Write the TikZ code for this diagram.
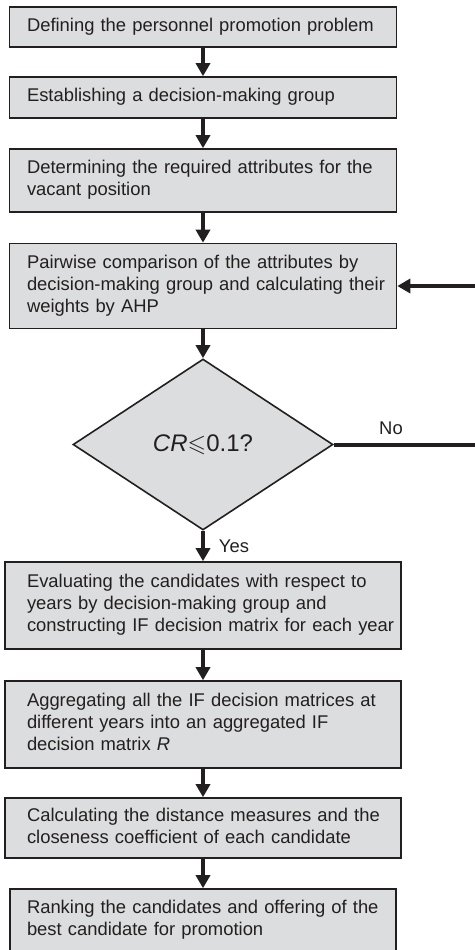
\documentclass[tikz,border=0pt]{standalone}
\usepackage{amsmath, amsfonts, amssymb}
\usepackage{fontspec}
\setmainfont{Liberation Sans}
\usetikzlibrary{positioning, shapes.geometric, arrows.meta}
\definecolor{ink}{HTML}{231F20}
\definecolor{boxgray}{HTML}{DCDDDE}
\newcommand{\steptext}[1]{\begin{tabular}{@{}l@{}}#1\end{tabular}}

\begin{document}
\begin{tikzpicture}[x=1pt, y=-1pt,
        stepbox/.style={draw=ink, fill=boxgray, line width=0.8pt, text=ink,
            text width=176pt, align=left, inner xsep=8.75pt, inner ysep=0pt,
            font=\fontsize{9.2}{11}\selectfont},
        widebox/.style={stepbox, inner xsep=11pt},
        check/.style={diamond, draw=ink, fill=boxgray, line width=0.8pt, text=ink,
            aspect=1.52, minimum width=130pt, minimum height=85.5pt, inner sep=0pt,
            font=\fontsize{12}{14}\selectfont},
        flow/.style={draw=ink, line width=2pt, -{Triangle[length=6.5pt,width=7pt]}},
        answer/.style={text=ink, inner sep=0pt, font=\fontsize{9.2}{11}\selectfont}]
        \useasboundingbox (0,0) rectangle (237.5,475);
        \node[stepbox, minimum height=20pt]   (b1) at (101.5, 13.5)  {\steptext{Defining the personnel promotion problem}};
        \node[stepbox, minimum height=20.5pt] (b2) at (101.5, 48.75) {\steptext{Establishing a decision-making group}};
        \node[stepbox, minimum height=31.5pt] (b3) at (101.5, 90.25) {\steptext{Determining the required attributes for the\\ vacant position}};
        \node[stepbox, minimum height=42.5pt] (b4) at (101.5, 143)   {\steptext{Pairwise comparison of the attributes by\\ decision-making group and calculating their\\ weights by AHP}};
        \node[check] (cr) at (101.5, 222.25) {\textit{CR}$\leqslant$0.1?};
        \node[widebox, minimum height=43.5pt] (b5) at (101.5, 302.75) {\steptext{Evaluating the candidates with respect to\\ years by decision-making group and\\ constructing IF decision matrix for each year}};
        \node[widebox, minimum height=43.5pt] (b6) at (101.5, 362.25) {\steptext{Aggregating all the IF decision matrices at\\ different years into an aggregated IF\\ decision matrix \textit{R}}};
        \node[widebox, minimum height=30pt]   (b7) at (101.5, 414)    {\steptext{Calculating the distance measures and the\\ closeness coefficient of each candidate}};
        \node[stepbox, inner xsep=8.5pt, minimum height=31.5pt] (b8) at (101.5, 460.25) {\steptext{Ranking the candidates and offering of the\\ best candidate for promotion}};
        \coordinate (noend) at (237.5, 222.25);
        \coordinate (back) at (237.5, 143);
        \node[answer] (no) at (195.5, 214) {No};
        \node[answer] (yes) at (117, 273) {Yes};
        \draw[flow] (b1) -- (b2);
        \draw[flow] (b2) -- (b3);
        \draw[flow] (b3) -- (b4);
        \draw[flow] (b4) -- (cr);
        \draw[flow] (cr) -- (b5);
        \draw[flow] (b5) -- (b6);
        \draw[flow] (b6) -- (b7);
        \draw[flow] (b7) -- (b8);
        \draw[draw=ink, line width=2pt] (cr.east) -- (noend);
        \draw[flow] (back) -- (b4.east);
    \end{tikzpicture}
\end{document}
